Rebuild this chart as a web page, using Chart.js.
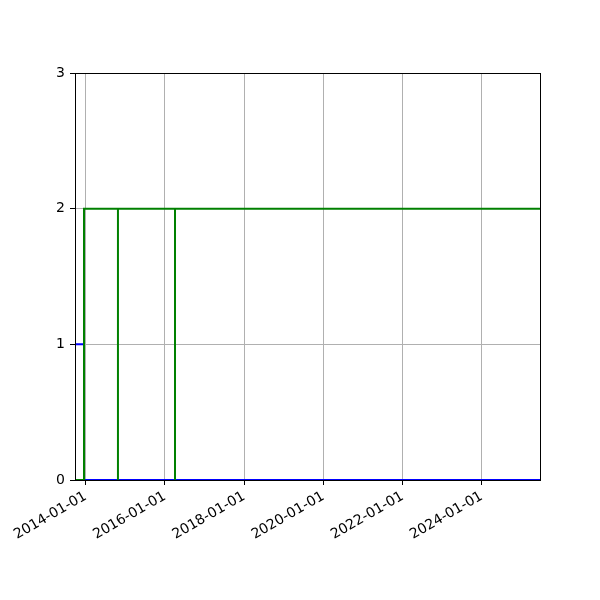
<!DOCTYPE html>
<html>
<head>
<meta charset="utf-8">
<script src="https://cdn.jsdelivr.net/npm/chart.js@4/dist/chart.umd.min.js"></script>
<style>
  body { margin: 0; background: #fff; }
  #wrap { width: 600px; height: 600px; }
</style>
</head>
<body>
<div id="wrap"><canvas id="chart" width="600" height="600"></canvas></div>
<script>
// data (dates as YYYY-MM-DD)
const xStart = "2013-09-25";
const xEnd = "2025-06-21";

const blueDates = ["2013-09-25", "2013-12-17", "2013-12-17", "2025-06-21"];
const blueValues = [1, 1, 0, 0];

const greenDates = ["2013-09-25", "2013-12-17", "2013-12-17", "2014-10-26", "2014-10-26", "2014-10-26",
  "2016-04-04", "2016-04-04", "2016-04-04", "2025-06-21"];
const greenValues = [0, 0, 2, 2, 0, 2, 2, 0, 2, 2];

const xTickLabels = ["2014-01-01", "2016-01-01", "2018-01-01", "2020-01-01", "2022-01-01", "2024-01-01"];
const yTicks = [0, 1, 2, 3];

const toMs = d => Date.parse(d + "T00:00:00Z");
const toPoints = (dates, values) => dates.map((d, i) => ({ x: toMs(d), y: values[i] }));

const tickFont = { family: "'DejaVu Sans', sans-serif", size: 14 };

// frame round the plot, drawn above the lines like matplotlib spines
const framePlugin = {
  id: "frame",
  afterDatasetsDraw(chart) {
    const a = chart.chartArea;
    const ctx = chart.ctx;
    ctx.save();
    ctx.strokeStyle = "#000";
    ctx.lineWidth = 1;
    ctx.strokeRect(Math.round(a.left) + 0.5, Math.round(a.top) + 0.5,
      Math.round(a.right - a.left), Math.round(a.bottom - a.top));
    ctx.restore();
  }
};

new Chart(document.getElementById("chart"), {
  type: "line",
  data: {
    datasets: [
      {
        data: toPoints(blueDates, blueValues),
        borderColor: "#0000ff",
        borderWidth: 2,
        pointRadius: 0,
        fill: false,
        tension: 0,
        clip: 0,
        order: 1, // drawn first, under the green line
      },
      {
        data: toPoints(greenDates, greenValues),
        borderColor: "#008000",
        borderWidth: 2,
        pointRadius: 0,
        fill: false,
        tension: 0,
        clip: 0,
        order: 0,
      },
    ],
  },
  options: {
    responsive: false,
    animation: false,
    layout: { padding: { top: 73, right: 60, left: 0, bottom: 0 } },
    plugins: { legend: { display: false }, tooltip: { enabled: false } },
    scales: {
      x: {
        type: "linear",
        min: toMs(xStart),
        max: toMs(xEnd),
        afterBuildTicks: (s) => { s.ticks = xTickLabels.map(d => ({ value: toMs(d) })); },
        afterFit: (s) => { s.height = 120; },
        grid: { color: "#b0b0b0", lineWidth: 1, tickColor: "#000", tickLength: 5 },
        border: { display: false },
        ticks: {
          color: "#000",
          font: tickFont,
          padding: 3,
          minRotation: 30,
          maxRotation: 30,
          autoSkip: false,
          callback: (v) => new Date(v).toISOString().slice(0, 10),
        },
      },
      y: {
        min: 0,
        max: 3,
        afterBuildTicks: (s) => { s.ticks = yTicks.map(v => ({ value: v })); },
        afterFit: (s) => { s.width = 75; },
        grid: { color: "#b0b0b0", lineWidth: 1, tickColor: "#000", tickLength: 5 },
        border: { display: false },
        ticks: { color: "#000", font: tickFont, padding: 5 },
      },
    },
  },
  plugins: [framePlugin],
});
</script>
</body>
</html>
